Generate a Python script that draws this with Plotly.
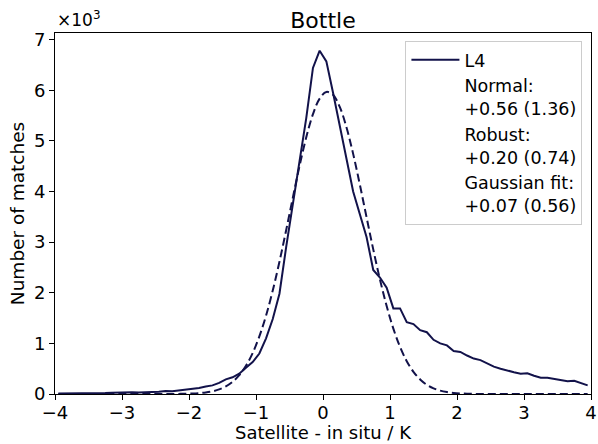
import numpy as np
import plotly.graph_objects as go

# bin centres (K)
bin_centres = np.round(np.arange(-3.95, 4.0, 0.1), 2)

# L4 histogram counts (x10^3)
l4_counts = [
    0.01, 0.01, 0.01, 0.015, 0.015, 0.02, 0.02, 0.02, 0.025, 0.03,      # -3.95 .. -3.05
    0.04, 0.035, 0.03, 0.04, 0.04, 0.045, 0.06, 0.055, 0.07, 0.09,      # -2.95 .. -2.05
    0.11, 0.12, 0.15, 0.17, 0.22, 0.29, 0.33, 0.40, 0.52, 0.63,         # -1.95 .. -1.05
    0.80, 1.10, 1.48, 1.98, 2.90, 3.80, 4.60, 5.45, 6.44, 6.78,         # -0.95 .. -0.05
    6.57, 5.95, 5.30, 4.60, 4.00, 3.55, 3.10, 2.45, 2.30, 2.10,         # 0.05 .. 0.95
    1.69, 1.69, 1.42, 1.38, 1.26, 1.22, 1.07, 1.00, 0.96, 0.85,         # 1.05 .. 1.95
    0.83, 0.76, 0.70, 0.67, 0.60, 0.54, 0.50, 0.46, 0.43, 0.40,         # 2.05 .. 2.95
    0.41, 0.36, 0.32, 0.32, 0.30, 0.27, 0.25, 0.26, 0.22, 0.17,         # 3.05 .. 3.95
]

# Gaussian fit curve values read at the bin centres (x10^3)
gauss_fit = [
    0, 0, 0, 0, 0, 0, 0, 0, 0, 0,
    0, 0, 0, 0, 0, 0.0005, 0.001, 0.001, 0.0023, 0.0046,
    0.009, 0.017, 0.030, 0.053, 0.091, 0.150, 0.240, 0.371, 0.557, 0.808,
    1.137, 1.549, 2.044, 2.612, 3.235, 3.879, 4.506, 5.070, 5.526, 5.834,
    5.966, 5.910, 5.670, 5.268, 4.743, 4.135, 3.492, 2.856, 2.263, 1.737,
    1.291, 0.930, 0.648, 0.438, 0.287, 0.182, 0.112, 0.066, 0.038, 0.021,
    0.0115, 0.006, 0.003, 0.0015, 0.0007, 0, 0, 0, 0, 0,
    0, 0, 0, 0, 0, 0, 0, 0, 0, 0,
]

stats_labels = ["Normal:<br>+0.56 (1.36)", "Robust:<br>+0.20 (0.74)", "Gaussian fit:<br>+0.07 (0.56)"]
x_ticks = [-4, -3, -2, -1, 0, 1, 2, 3, 4]
x_ticktext = ["\u22124", "\u22123", "\u22122", "\u22121", "0", "1", "2", "3", "4"]
y_ticks = [0, 1, 2, 3, 4, 5, 6, 7]
x_title = "Satellite - in situ / K"

NAVY = "#12124a"
FONT = "DejaVu Sans"
FS = 18

fig = go.Figure()
fig.add_trace(go.Scatter(x=bin_centres, y=l4_counts, mode="lines", name="L4",
                         line=dict(color=NAVY, width=2)))
fig.add_trace(go.Scatter(x=bin_centres, y=gauss_fit, mode="lines", showlegend=False,
                         line=dict(color=NAVY, width=2, dash="8px,4px", shape="spline")))
for lab in stats_labels:
    fig.add_trace(go.Scatter(x=[None], y=[None], mode="lines", name=lab,
                             line=dict(color="rgba(0,0,0,0)", width=0)))

axis_common = dict(showline=True, linecolor="black", linewidth=1, mirror=True,
                   ticks="outside", ticklen=5, tickwidth=1, tickcolor="black",
                   showgrid=False, zeroline=False, automargin=False,
                   tickfont=dict(family=FONT, size=FS, color="black"))

fig.update_layout(
    width=598, height=444,
    margin=dict(l=55, r=7, t=33, b=50),
    paper_bgcolor="white", plot_bgcolor="white",
    font=dict(family=FONT, size=FS, color="black"),
    title=dict(text="Bottle", x=0.5, xref="paper", xanchor="center",
               y=1, yref="paper", yanchor="bottom", pad=dict(b=5),
               font=dict(family=FONT, size=22, color="black")),
    xaxis=dict(range=[-4, 4], tickvals=x_ticks, ticktext=x_ticktext,
               ticklabelstandoff=-3, **axis_common),
    yaxis=dict(range=[0, 7.13], tickvals=y_ticks,
               title=dict(text="Number of matches", standoff=4,
                          font=dict(family=FONT, size=18.5)), **axis_common),
    legend=dict(x=0.984, y=0.978, xanchor="right", yanchor="top",
                bgcolor="rgba(255,255,255,0.8)", bordercolor="#cccccc", borderwidth=1,
                font=dict(family=FONT, size=17.5, color="black"),
                tracegroupgap=0, itemwidth=48),
    annotations=[
        dict(text="\u00d710<sup>3</sup>", xref="paper", yref="paper",
             x=0, y=1, xanchor="left", yanchor="bottom", showarrow=False,
             yshift=1, font=dict(family=FONT, size=17, color="black")),
        dict(text=x_title, xref="paper", yref="paper", x=0.5, y=0,
             xanchor="center", yanchor="top", showarrow=False, yshift=-27,
             borderpad=0, font=dict(family=FONT, size=18, color="black")),
    ],
)

fig.write_html("out.html")
